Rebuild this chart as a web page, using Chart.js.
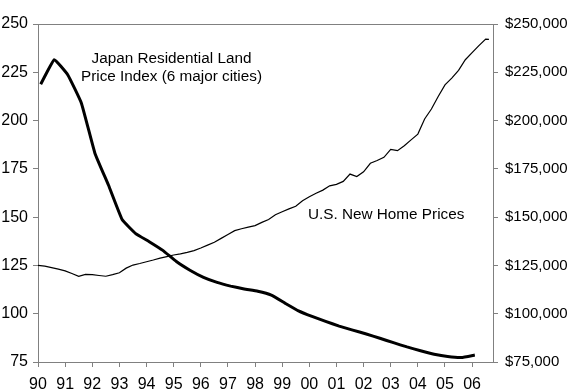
<!DOCTYPE html>
<html>
<head>
<meta charset="utf-8">
<script src="https://cdn.jsdelivr.net/npm/chart.js@4.4.1/dist/chart.umd.min.js"></script>
<style>
  html, body { margin: 0; padding: 0; background: #fff; }
  #wrap { width: 570px; height: 391px; position: relative; }
</style>
</head>
<body>
<div id="wrap"><canvas id="chart"></canvas></div>
<script>
// Japan residential land price index (6 major cities), semiannual, left axis
const japanYears = [1990.1, 1990.6, 1991.1, 1991.6, 1992.1, 1992.6, 1993.1, 1993.6, 1994.1, 1994.6,
  1995.1, 1995.6, 1996.1, 1996.6, 1997.1, 1997.6, 1998.1, 1998.6, 1999.1, 1999.6,
  2000.1, 2000.6, 2001.1, 2001.6, 2002.1, 2002.6, 2003.1, 2003.6, 2004.1, 2004.6,
  2005.1, 2005.6, 2006.1];
const japanIndex = [218.8, 231.5, 223.6, 209.0, 183.0, 166.5, 148.8, 141.5, 137.3, 132.8,
  127.0, 122.5, 118.8, 116.2, 114.3, 112.8, 111.6, 109.6, 105.5, 101.5,
  98.6, 96.0, 93.6, 91.5, 89.5, 87.3, 85.0, 82.8, 80.8, 79.0,
  77.8, 77.3, 78.6];

// U.S. new home prices (thousands of $), quarterly, right axis
const usYears = [1990.0, 1990.25, 1990.5, 1990.75, 1991.0, 1991.25, 1991.5, 1991.75,
  1992.0, 1992.25, 1992.5, 1992.75, 1993.0, 1993.25, 1993.5, 1993.75,
  1994.0, 1994.25, 1994.5, 1994.75, 1995.0, 1995.25, 1995.5, 1995.75,
  1996.0, 1996.25, 1996.5, 1996.75, 1997.0, 1997.25, 1997.5, 1997.75,
  1998.0, 1998.25, 1998.5, 1998.75, 1999.0, 1999.25, 1999.5, 1999.75,
  2000.0, 2000.25, 2000.5, 2000.75, 2001.0, 2001.25, 2001.5, 2001.75,
  2002.0, 2002.25, 2002.5, 2002.75, 2003.0, 2003.25, 2003.5, 2003.75,
  2004.0, 2004.25, 2004.5, 2004.75, 2005.0, 2005.25, 2005.5, 2005.75,
  2006.0, 2006.25, 2006.5, 2006.62];
const usPrice = [125.0, 124.6, 123.9, 123.1, 122.2, 120.8, 119.4, 120.4,
  120.2, 119.8, 119.4, 120.2, 121.2, 123.6, 125.2, 126.0,
  126.9, 127.8, 128.8, 129.6, 130.4, 131.0, 131.8, 132.7,
  134.0, 135.5, 137.0, 139.0, 141.0, 143.0, 144.0, 144.8,
  145.6, 147.3, 148.8, 151.2, 152.8, 154.3, 155.6, 158.5,
  160.6, 162.4, 164.0, 166.2, 167.0, 168.5, 172.3, 171.0,
  173.5, 177.9, 179.3, 181.0, 185.1, 184.4, 187.0, 190.0,
  193.0, 200.8, 206.0, 212.5, 218.5, 222.0, 226.0, 231.5,
  235.2, 238.8, 242.2, 242.0];

const leftTicks = [75, 100, 125, 150, 175, 200, 225, 250];
const rightTicks = [75000, 100000, 125000, 150000, 175000, 200000, 225000, 250000];
const yearTicks = [1990, 1991, 1992, 1993, 1994, 1995, 1996, 1997, 1998,
  1999, 2000, 2001, 2002, 2003, 2004, 2005, 2006];

// text labels, placed in data coordinates
const notes = [
  { text: 'Japan Residential Land', x: 1994.92, y: 232.2, align: 'center' },
  { text: 'Price Index (6 major cities)', x: 1994.92, y: 222.7, align: 'center' },
  { text: 'U.S. New Home Prices', x: 1999.95, y: 151.1, align: 'left' },
];

const axisGray = '#808080';
const font = { family: 'Arial, "Liberation Sans", sans-serif', size: 15 };

const notesPlugin = {
  id: 'notes',
  afterDatasetsDraw(chart) {
    const { ctx, scales } = chart;
    ctx.save();
    ctx.fillStyle = '#000';
    ctx.font = '15.3px Arial, "Liberation Sans", sans-serif';
    ctx.textBaseline = 'middle';
    for (const n of notes) {
      ctx.textAlign = n.align;
      ctx.fillText(n.text, scales.x.getPixelForValue(n.x), scales.y.getPixelForValue(n.y));
    }
    // top border of the plot
    const a = chart.chartArea;
    ctx.strokeStyle = axisGray;
    ctx.lineWidth = 1;
    ctx.beginPath();
    ctx.moveTo(a.left, a.top + 0.5);
    ctx.lineTo(a.right, a.top + 0.5);
    ctx.stroke();
    ctx.restore();
  }
};

new Chart(document.getElementById('chart'), {
  type: 'line',
  data: {
    datasets: [
      {
        label: 'Japan Residential Land Price Index (6 major cities)',
        data: japanYears.map((x, i) => ({ x, y: japanIndex[i] })),
        yAxisID: 'y',
        borderColor: '#000',
        borderWidth: 3,
        pointRadius: 0,
        tension: 0.1,
      },
      {
        label: 'U.S. New Home Prices',
        data: usYears.map((x, i) => ({ x, y: usPrice[i] * 1000 })),
        yAxisID: 'y2',
        borderColor: '#000',
        borderWidth: 1.2,
        pointRadius: 0,
        tension: 0,
      }
    ]
  },
  options: {
    responsive: true,
    maintainAspectRatio: false,
    animation: false,
    layout: { padding: { top: 24, left: 0, right: 0, bottom: 0 } },
    plugins: { legend: { display: false }, tooltip: { enabled: false } },
    scales: {
      x: {
        type: 'linear',
        min: 1990,
        max: 2006.77,
        afterBuildTicks: s => { s.ticks = yearTicks.map(v => ({ value: v })); },
        afterFit: s => { s.height = 29; },
        ticks: {
          color: '#000', font: { ...font, size: 16 }, padding: 8, maxRotation: 0, autoSkip: false,
          callback: v => String(v % 100).padStart(2, '0')
        },
        grid: { drawOnChartArea: false, color: axisGray, tickLength: 5, tickColor: axisGray },
        border: { color: axisGray, width: 1 }
      },
      y: {
        position: 'left',
        min: 75,
        max: 250,
        afterBuildTicks: s => { s.ticks = leftTicks.map(v => ({ value: v })); },
        afterFit: s => { s.width = 38; },
        ticks: { color: '#000', font: { ...font, size: 16 }, padding: 5 },
        grid: { drawOnChartArea: false, tickLength: 5, tickColor: axisGray },
        border: { color: axisGray, width: 1 }
      },
      y2: {
        position: 'right',
        min: 75000,
        max: 250000,
        afterBuildTicks: s => { s.ticks = rightTicks.map(v => ({ value: v })); },
        afterFit: s => { s.width = 77; },
        ticks: {
          color: '#000', font, padding: 7,
          callback: v => '$' + v.toLocaleString('en-US')
        },
        grid: { drawOnChartArea: false, tickLength: 5, tickColor: axisGray },
        border: { color: axisGray, width: 1 }
      }
    }
  },
  plugins: [notesPlugin]
});
</script>
</body>
</html>
